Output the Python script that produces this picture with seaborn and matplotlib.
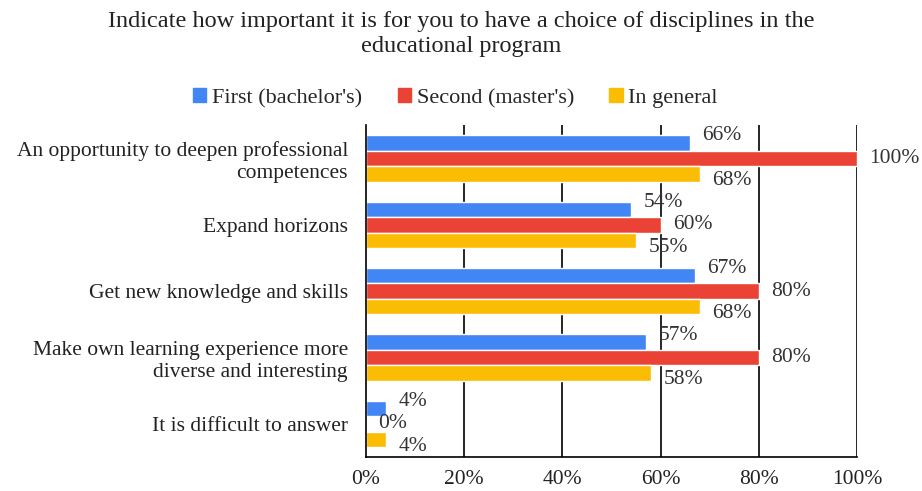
import numpy as np
import pandas as pd
import matplotlib.pyplot as plt
import seaborn as sns

# Dane z wykresu
kategorie = [
    "An opportunity to deepen professional\ncompetences",
    "Expand horizons",
    "Get new knowledge and skills",
    "Make own learning experience more\ndiverse and interesting",
    "It is difficult to answer",
]
serie = ["First (bachelor's)", "Second (master's)", "In general"]
pierwszy = [66, 54, 67, 57, 4]
drugi = [100, 60, 80, 80, 0]
ogolnie = [68, 55, 68, 58, 4]
kolory = ["#4285F4", "#EA4335", "#FBBC04"]
ticki = [0, 20, 40, 60, 80, 100]

df = pd.DataFrame({
    "kategoria": kategorie * 3,
    "seria": [serie[0]] * 5 + [serie[1]] * 5 + [serie[2]] * 5,
    "wartosc": pierwszy + drugi + ogolnie,
})

sns.set_style("white")
plt.rcParams["font.family"] = ["Liberation Serif", "DejaVu Serif"]

fig = plt.figure(figsize=(9.22, 4.91), dpi=100)
ax = fig.add_axes([0.397, 0.069, 0.5325, 0.676])

sns.barplot(data=df, y="kategoria", x="wartosc", hue="seria", orient="h",
            palette=kolory, width=0.7, saturation=1, ax=ax, legend=False)

ax.set_xlim(0, 100)
ax.set_ylim(4.5, -0.5)
ax.set_xticks(ticks=ticki, labels=[f"{t}%" for t in ticki])
ax.tick_params(axis="both", length=0, labelsize=15.5, colors="#222222")
ax.tick_params(axis="x", pad=9)
ax.tick_params(axis="y", pad=13)
ax.set_xlabel("")
ax.set_ylabel("")
for t in ticki[1:]:
    ax.axvline(t, color="black", lw=1.2, zorder=0)
for s in ["top", "right"]:
    ax.spines[s].set_visible(False)
for s in ["left", "bottom"]:
    ax.spines[s].set_color("black")
    ax.spines[s].set_linewidth(1.2)

# Etykiety wartosci
przesuniecia = [5, 0, -5]
for i, kontener in enumerate(ax.containers):
    for prost, v in zip(kontener, [pierwszy, drugi, ogolnie][i]):
        y = prost.get_y() + prost.get_height() / 2
        ax.annotate(f"{v}%", (prost.get_width(), y), xytext=(9, przesuniecia[i]),
                    textcoords="offset points", va="center", ha="left",
                    fontsize=15.5, color="#333333", annotation_clip=False)

# Legenda
uchwyty = [plt.Rectangle((0, 0), 1, 1, color=k) for k in kolory]
fig.legend(uchwyty, serie, loc="center", bbox_to_anchor=(0.494, 0.80), ncol=3,
           frameon=False, fontsize=16, handlelength=0.6, handleheight=0.6,
           handletextpad=0.25, columnspacing=1.6)

fig.text(0.5, 0.93, "Indicate how important it is for you to have a choice of disciplines in the\neducational program",
         ha="center", va="center", fontsize=17.5, linespacing=1.25, color="#222222")

fig.savefig("out.png", dpi=100)
